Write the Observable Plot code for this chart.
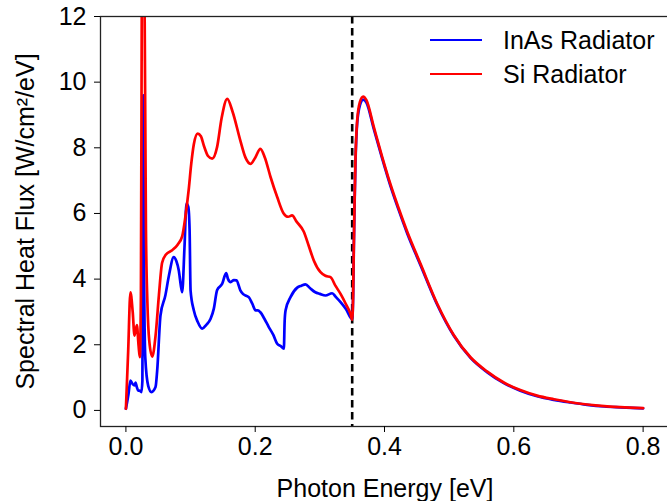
<!DOCTYPE html>
<html><head><meta charset="utf-8">
<script src="https://cdn.jsdelivr.net/npm/d3@7"></script>
<script src="https://cdn.jsdelivr.net/npm/@observablehq/plot@0.6"></script>
<style>
body{margin:0;background:#fff;}
#wrap{position:relative;width:667px;height:501px;overflow:hidden;font-family:"Liberation Sans",Arial,sans-serif;background:#fff;}
.legline{position:absolute;height:2.6px;width:52px;}
.legtext{position:absolute;font-size:25px;line-height:30px;color:#000;white-space:nowrap;}
</style></head><body><div id="wrap"></div>
<script>
// InAs radiator (blue)
const inasE = [0, 0.004, 0.007, 0.0105, 0.0133, 0.0149, 0.017, 0.019, 0.0215, 0.024, 0.0255, 0.026, 0.0268, 0.0278, 0.030, 0.0345, 0.0396, 0.0458, 0.0484, 0.0535, 0.061, 0.0665, 0.074, 0.078, 0.0818, 0.085, 0.087, 0.0906, 0.0937, 0.0965, 0.0985, 0.1, 0.105, 0.111, 0.118, 0.124, 0.131, 0.136, 0.141, 0.149, 0.155, 0.158, 0.162, 0.167, 0.171, 0.177, 0.181, 0.185, 0.19, 0.1955, 0.2005, 0.204, 0.208, 0.214, 0.221, 0.228, 0.234, 0.24, 0.2443, 0.2455, 0.247, 0.2546, 0.265, 0.2715, 0.2778, 0.285, 0.293, 0.3, 0.3087, 0.319, 0.325, 0.332, 0.34, 0.35, 0.3515, 0.3525, 0.3536, 0.355, 0.3577, 0.362, 0.367, 0.372, 0.3835, 0.396, 0.409, 0.422, 0.435, 0.456, 0.4815, 0.507, 0.533, 0.559, 0.5845, 0.61, 0.636, 0.662, 0.6875, 0.7135, 0.74, 0.765, 0.8];
const inasV = [0.05, 0.5, 0.91, 0.8, 0.76, 0.85, 0.7, 0.61, 0.6, 0.56, 0.9, 4.0, 9.6, 5.0, 1.6, 0.75, 0.56, 0.71, 1.22, 2.9, 3.5, 4.1, 4.67, 4.55, 4.26, 3.8, 3.6, 4.97, 6.3, 6.2, 5.5, 3.66, 3.05, 2.7, 2.49, 2.6, 2.79, 3.1, 3.66, 3.86, 4.18, 4.0, 3.91, 3.97, 3.96, 3.66, 3.55, 3.5, 3.45, 3.25, 3.05, 3.05, 2.99, 2.8, 2.54, 2.3, 2.03, 1.95, 1.88, 2.7, 3.05, 3.45, 3.74, 3.8, 3.84, 3.72, 3.6, 3.55, 3.5, 3.57, 3.45, 3.3, 3.1, 2.78, 3.5, 4.9, 6.2, 7.5, 8.75, 9.3, 9.47, 9.38, 8.57, 7.7, 6.85, 6.1, 5.4, 4.41, 3.22, 2.28, 1.6, 1.16, 0.83, 0.6, 0.43, 0.32, 0.24, 0.17, 0.12, 0.095, 0.065];
// Si radiator (red)
const siE = [0, 0.0035, 0.007, 0.0105, 0.0133, 0.017, 0.0195, 0.0215, 0.0232, 0.0245, 0.02675, 0.029, 0.031, 0.0332, 0.0362, 0.0407, 0.046, 0.051, 0.056, 0.062, 0.0716, 0.08, 0.087, 0.092, 0.097, 0.101, 0.105, 0.111, 0.116, 0.1205, 0.127, 0.1335, 0.141, 0.148, 0.1567, 0.165, 0.177, 0.185, 0.1927, 0.2, 0.208, 0.215, 0.2237, 0.234, 0.244, 0.251, 0.257, 0.264, 0.275, 0.283, 0.2906, 0.301, 0.3085, 0.3165, 0.324, 0.332, 0.34, 0.3472, 0.35, 0.3515, 0.3525, 0.3536, 0.355, 0.3577, 0.362, 0.367, 0.372, 0.3835, 0.396, 0.409, 0.422, 0.435, 0.456, 0.4815, 0.507, 0.533, 0.559, 0.5845, 0.61, 0.636, 0.662, 0.6875, 0.7135, 0.74, 0.765, 0.8];
const siV = [0.05, 1.8, 3.6, 3.0, 2.28, 2.6, 2.0, 1.62, 3.5, 12, 25, 12, 5.5, 3.3, 2.1, 1.64, 2.3, 3.5, 4.5, 4.75, 4.88, 5.05, 5.3, 5.9, 6.7, 7.5, 8.1, 8.43, 8.35, 8.07, 7.75, 7.67, 8.02, 8.9, 9.49, 9.1, 8.22, 7.7, 7.51, 7.7, 7.97, 7.7, 7.11, 6.5, 6.0, 5.9, 5.94, 5.75, 5.45, 5.0, 4.57, 4.21, 4.1, 4.06, 3.8, 3.55, 3.25, 2.95, 2.76, 3.6, 5.0, 6.3, 7.6, 8.83, 9.4, 9.56, 9.45, 8.63, 7.75, 6.9, 6.15, 5.45, 4.45, 3.25, 2.3, 1.62, 1.18, 0.85, 0.62, 0.45, 0.34, 0.25, 0.18, 0.13, 0.10, 0.07];
const bandgapE = [0.35];
const xTicks = [0, 0.2, 0.4, 0.6, 0.8];
const yTicks = [0, 2, 4, 6, 8, 10, 12];
const seriesNames = ["InAs Radiator", "Si Radiator"];
const seriesColors = ["#0000ff", "#ff0000"];

const inas = inasE.map((e, i) => ({E: e, v: inasV[i]}));
const si = siE.map((e, i) => ({E: e, v: siV[i]}));

const chart = Plot.plot({
  width: 667, height: 501,
  marginLeft: 100, marginRight: -2, marginTop: 16, marginBottom: 75,
  style: {fontFamily: '"Liberation Sans", Arial, sans-serif', fontSize: "25px", background: "white", color: "black", overflow: "hidden"},
  x: {domain: [-0.0393, 0.8408]},
  y: {domain: [-0.49, 12]},
  marks: [
    Plot.ruleX(bandgapE, {stroke: "black", strokeWidth: 2.6, strokeDasharray: "7.5,4.5"}),
    Plot.line(inas, {x: "E", y: "v", stroke: seriesColors[0], strokeWidth: 2.7, curve: "monotone-x", clip: true}),
    Plot.line(si, {x: "E", y: "v", stroke: seriesColors[1], strokeWidth: 2.7, curve: "monotone-x", clip: true}),
    Plot.frame({stroke: "#222", strokeWidth: 1.3}),
    Plot.axisX({ticks: xTicks, tickFormat: d3.format(".1f"), tickSize: 6, tickPadding: 5, label: "Photon Energy [eV]", labelAnchor: "center", labelArrow: "none", labelOffset: 70}),
    Plot.axisY({ticks: yTicks, tickFormat: d3.format("d"), tickSize: 6, tickPadding: 8, label: "Spectral Heat Flux [W/cm\u00B2/eV]", labelAnchor: "center", labelArrow: "none", labelOffset: 84})
  ]
});
const wrap = document.getElementById("wrap");
wrap.appendChild(chart);
const legY = [40, 74];
seriesNames.forEach((name, i) => {
  const l = document.createElement("div");
  l.className = "legline";
  l.style.left = "430px"; l.style.top = (legY[i] - 1.3) + "px"; l.style.background = seriesColors[i];
  wrap.appendChild(l);
  const t = document.createElement("div");
  t.className = "legtext";
  t.style.left = "503px"; t.style.top = (legY[i] - 15) + "px";
  t.textContent = name;
  wrap.appendChild(t);
});
</script></body></html>
